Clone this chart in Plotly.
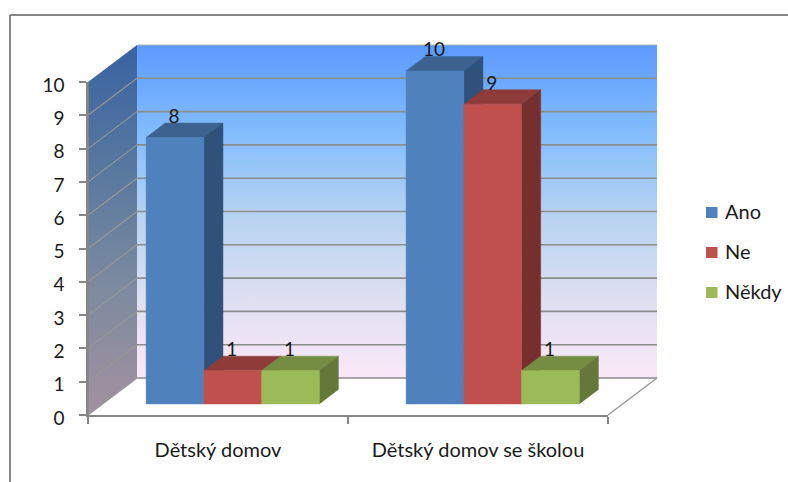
"""Excel style 3D clustered column chart, drawn with an oblique projection."""
import plotly.graph_objects as go

CATEGORIES = ["Dětský domov", "Dětský domov se školou"]
SERIES = ["Ano", "Ne", "Někdy"]
ANO = [8, 10]
NE = [1, 9]
NEKDY = [1, 1]
Y_TICKS = [0, 1, 2, 3, 4, 5, 6, 7, 8, 9, 10]

FRONT = ["#4f81bd", "#c0504d", "#9bbb59"]
TOP = ["#3c6390", "#8f3b39", "#748d43"]
SIDE = ["#30517a", "#772f2e", "#65783a"]
GRID = "#8c8c8c"
AXIS = "#868686"
TEXT = "#1a1a1a"
FONT = "Lato"

W, H = 788, 482
LEFT_PX, ZERO_PX, TEN_PX = 88, 415, 82  # where the front axes sit
PX_CAT = 260  # one category on the front edge, px
PX_UNIT = (ZERO_PX - TEN_PX) / 10  # one value unit, px
DEPTH_X = 49 / PX_CAT  # full floor depth, in category units
DEPTH_Y = 37 / PX_UNIT  # full floor depth, in value units

BAR_W = 0.222
BAR_D0, BAR_D1 = 0.3, 0.69
LABEL_DROP = 4.5 / PX_UNIT  # data labels overlap the column top a little
LABEL_LEFT = 1 / PX_CAT


def project(u, v, d):
    return u + d * DEPTH_X, v + d * DEPTH_Y


def poly(points, **kw):
    xs, ys = zip(*[project(*p) for p in points])
    return go.Scatter(
        x=list(xs) + [xs[0]], y=list(ys) + [ys[0]], xaxis="x2", yaxis="y2",
        mode="lines", fill="toself", hoverinfo="skip", showlegend=False, **kw,
    )


def grid_trace(segments, color, width):
    xs, ys = [], []
    for a, b in segments:
        for p in (a, b):
            x, y = project(*p)
            xs.append(x)
            ys.append(y)
        xs.append(None)
        ys.append(None)
    return go.Scatter(
        x=xs, y=ys, xaxis="x2", yaxis="y2", mode="lines",
        line=dict(color=color, width=width),
        hoverinfo="skip", showlegend=False,
    )


fig = go.Figure()

# keeps the visible axes alive; the marks live on the full-page x2/y2
fig.add_trace(go.Scatter(
    x=[0], y=[0], mode="markers", marker=dict(opacity=0),
    hoverinfo="skip", showlegend=False,
))

# walls
fig.add_trace(poly(
    [(0, 0, 1), (2, 0, 1), (2, 10, 1), (0, 10, 1)],
    line=dict(width=0), fillcolor="#5c9cff",
    fillgradient=dict(type="vertical", colorscale=[
        [0, "#fbe8f8"], [0.25, "#dcdff0"], [0.5, "#b4d2f2"],
        [0.75, "#80bbfd"], [1, "#5c9aff"],
    ]),
))
fig.add_trace(poly(
    [(0, 0, 0), (0, 0, 1), (0, 10, 1), (0, 10, 0)],
    line=dict(width=0), fillcolor="#3f68a4",
    fillgradient=dict(type="vertical", colorscale=[
        [0, "#a3919f"], [0.35, "#7c8a9f"], [0.65, "#59799f"], [1, "#3a62a2"],
    ]),
))

# grid lines on both walls, floor edges
fig.add_trace(grid_trace(
    [((0, v, 1), (2, v, 1)) for v in Y_TICKS[:-1]], GRID, 1.6))
fig.add_trace(grid_trace(
    [((0, 10, 1), (2, 10, 1))], "#b4b4b4", 1))
fig.add_trace(grid_trace(
    [((0, v, 0), (0, v, 1)) for v in Y_TICKS[:-1]], "#979797", 1.1))
fig.add_trace(grid_trace([((2, 0, 0), (2, 0, 1))], "#979797", 1.4))
fig.add_trace(grid_trace([((0, 0, 0), (0, 10, 0))], AXIS, 1.5))

# columns, left to right so each one covers its neighbour's side
gap = (1 - len(SERIES) * BAR_W) / 2
for c in range(len(CATEGORIES)):
    for s, values in enumerate([ANO, NE, NEKDY]):
        v = values[c]
        u0 = c + gap + s * BAR_W
        u1 = u0 + BAR_W
        fig.add_trace(poly(
            [(u0, v, BAR_D0), (u1, v, BAR_D0), (u1, v, BAR_D1), (u0, v, BAR_D1)],
            line=dict(width=0.5, color=TOP[s]), fillcolor=TOP[s],
        ))
        fig.add_trace(poly(
            [(u1, 0, BAR_D0), (u1, 0, BAR_D1), (u1, v, BAR_D1), (u1, v, BAR_D0)],
            line=dict(width=0.5, color=SIDE[s]), fillcolor=SIDE[s],
        ))
        fig.add_trace(poly(
            [(u0, 0, BAR_D0), (u1, 0, BAR_D0), (u1, v, BAR_D0), (u0, v, BAR_D0)],
            line=dict(width=0.5, color=FRONT[s]), fillcolor=FRONT[s],
        ))

# data labels go on top of all the columns
for c in range(len(CATEGORIES)):
    for s, values in enumerate([ANO, NE, NEKDY]):
        v = values[c]
        mid = c + gap + (s + 0.5) * BAR_W
        fig.add_trace(go.Scatter(
            x=[project(mid, v, BAR_D0)[0] - LABEL_LEFT],
            y=[project(mid, v, BAR_D1)[1] - LABEL_DROP],
            xaxis="x2", yaxis="y2",
            mode="text", text=[str(v)], textposition="top center",
            textfont=dict(family=FONT, size=19, color=TEXT),
            hoverinfo="skip", showlegend=False, cliponaxis=False,
        ))

# legend: keys sit closer to their text than a Plotly legend allows
shapes = []
annotations = []
for name, color, py in zip(SERIES, FRONT, [212.5, 252.5, 292.5]):
    shapes.append(dict(
        type="rect", xref="paper", yref="paper",
        x0=706 / W, x1=717.5 / W, y0=1 - (py + 5.5) / H, y1=1 - (py - 5.5) / H,
        fillcolor=color, line=dict(width=0),
    ))
    annotations.append(dict(
        text=name, xref="paper", yref="paper", x=723 / W, y=1 - (py - 2) / H,
        xanchor="left", yanchor="middle", showarrow=False,
        font=dict(family=FONT, size=20, color=TEXT),
    ))

# outer chart frame: only top and left edges are in the picture
for x0, y0, x1, y1 in [(10, 15, W, 15), (10, 15, 10, H)]:
    shapes.append(dict(
        type="line", xref="paper", yref="paper",
        x0=x0 / W, x1=x1 / W, y0=1 - y0 / H, y1=1 - y1 / H,
        line=dict(color=AXIS, width=2),
    ))

fig.update_layout(
    width=W, height=H,
    margin=dict(l=0, r=0, t=0, b=0),
    paper_bgcolor="white",
    plot_bgcolor="rgba(0,0,0,0)",
    showlegend=False,
    shapes=shapes,
    annotations=annotations,
    xaxis=dict(
        domain=[LEFT_PX / W, (LEFT_PX + 2 * PX_CAT) / W], range=[0, 2],
        automargin=False, showgrid=False, zeroline=False,
        tickmode="array", tickvals=[0.5, 1.5], ticktext=CATEGORIES, ticks="",
        ticklabelstandoff=16,
        tickfont=dict(family=FONT, size=20, color=TEXT),
        showline=True, linecolor=AXIS, linewidth=1.5,
        minor=dict(tickmode="array", tickvals=[0, 1, 2], ticks="outside",
                   ticklen=7, tickcolor=AXIS, tickwidth=1.5, showgrid=False),
    ),
    yaxis=dict(
        domain=[(H - ZERO_PX) / H, (H - TEN_PX) / H], range=[0, 10],
        automargin=False, showgrid=False,
        zeroline=False, tickmode="array", tickvals=Y_TICKS, ticks="outside",
        ticklen=7, tickcolor=AXIS, tickwidth=1.5,
        ticklabelstandoff=11, ticklabelshift=3,
        tickfont=dict(family=FONT, size=19, color=TEXT),
        showline=True, linecolor=AXIS, linewidth=1.5,
    ),
    # same scales as x/y but spanning the whole page, so depth is not clipped
    xaxis2=dict(
        domain=[0, 1], anchor="y2", visible=False, automargin=False,
        range=[-LEFT_PX / PX_CAT, (W - LEFT_PX) / PX_CAT],
    ),
    yaxis2=dict(
        domain=[0, 1], anchor="x2", visible=False, automargin=False,
        range=[-(H - ZERO_PX) / PX_UNIT, ZERO_PX / PX_UNIT],
    ),
)

fig.write_html(
    "out.html",
    config=dict(displayModeBar=False),
    post_script="document.body.style.margin = '0';",
)
